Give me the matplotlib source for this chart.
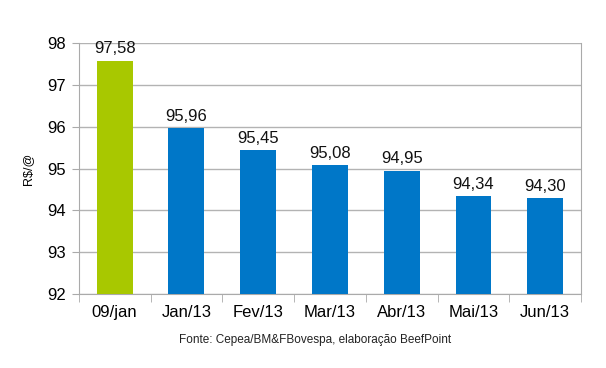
import matplotlib.pyplot as plt

plt.rcParams['font.family'] = ['Liberation Sans', 'DejaVu Sans']

categories = ['09/jan', 'Jan/13', 'Fev/13', 'Mar/13', 'Abr/13', 'Mai/13', 'Jun/13']
values = [97.58, 95.96, 95.45, 95.08, 94.95, 94.34, 94.30]
labels = ['97,58', '95,96', '95,45', '95,08', '94,95', '94,34', '94,30']
colors = ['#a8c800'] + ['#0077c8'] * 6

fig = plt.figure(figsize=(6.06, 3.68), dpi=100)
ax = fig.add_axes([0.130, 0.201, 0.829, 0.682])

x = range(len(categories))
bars = ax.bar(x, [v - 92 for v in values], bottom=92, width=0.5, color=colors, zorder=3)
for b, lab in zip(bars, labels):
    ax.annotate(lab, (b.get_x() + b.get_width() / 2, b.get_y() + b.get_height()),
                xytext=(0, 3), textcoords='offset points', ha='center', va='bottom',
                fontsize=12, color='#111111')

ax.set_ylim(92, 98)
ax.set_xlim(-0.5, len(categories) - 0.5)
ax.set_yticks(range(92, 99))
ax.tick_params(axis='y', labelsize=12, length=5, color='#aaaaaa', pad=4)
ax.grid(axis='y', color='#b3b3b3', linewidth=1, zorder=0)

ax.set_xticks(x)
ax.set_xticklabels(categories, fontsize=12)
ax.set_xticks([i + 0.5 for i in range(-1, len(categories))], minor=True)
ax.tick_params(axis='x', which='major', length=0, pad=8)
ax.tick_params(axis='x', which='minor', length=6, color='#aaaaaa')

for s in ['left', 'right', 'bottom']:
    ax.spines[s].set_color('#aaaaaa')
ax.spines['top'].set_visible(False)

ax.set_ylabel('R$/@', fontsize=9, labelpad=10)
fig.text(0.52, 0.075, 'Fonte: Cepea/BM&FBovespa, elaboração BeefPoint', fontsize=8.5,
         ha='center', va='center', color='#222222')

fig.savefig('out.png', dpi=100)
